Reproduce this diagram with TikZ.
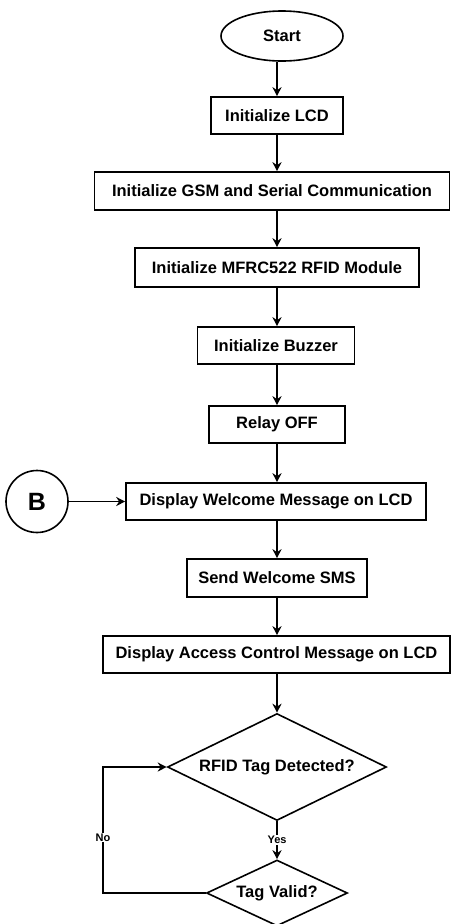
\documentclass[tikz,border=0pt]{standalone}
\usepackage{fontspec}
\setmainfont{Liberation Sans}
\usetikzlibrary{
  arrows,
  arrows.meta,
  shapes.geometric,
  positioning}

\begin{document}
\begin{tikzpicture}[
  x=1pt,y=-1pt,
  >={Stealth[length=9pt,width=9pt]},
  line width=1.6pt,
  every node/.style={font=\fontsize{16.5}{18}\selectfont\bfseries,inner sep=0pt},
  proc/.style={draw,rectangle,minimum height=37pt},
  term/.style={draw,ellipse,minimum width=122pt,minimum height=50pt},
  decide/.style={draw,diamond,aspect=2},
  conn/.style={draw,circle,minimum size=62pt,font=\fontsize{25}{28}\selectfont\bfseries},
  lbl/.style={fill=white,font=\fontsize{11}{12}\selectfont\bfseries,inner sep=1pt}
]%
  \useasboundingbox (0,0) rectangle (452,924);

  \node[term] (nStart) at (282,36) {Start};
  \node[proc,minimum width=132pt] (nLcd) at (277,115.5) {Initialize LCD};
  \node[proc,minimum width=355pt,minimum height=38pt] (nGsm) at (272,191) {Initialize GSM and Serial Communication};
  \node[proc,minimum width=284pt,minimum height=39pt] (nRfid) at (277,267.5) {Initialize MFRC522 RFID Module};
  \node[proc,minimum width=157pt] (nBuzz) at (276,345.5) {Initialize Buzzer};
  \node[proc,minimum width=136pt] (nRelay) at (277,424.5) {Relay OFF};
  \node[proc,minimum width=300pt] (nWelcome) at (276,501.5) {Display Welcome Message on LCD};
  \node[proc,minimum width=180pt,minimum height=38pt] (nSms) at (277,578) {Send Welcome SMS};
  \node[proc,minimum width=347pt] (nAccess) at (276.5,654.5) {Display Access Control Message on LCD};
  \node[decide,minimum width=219pt,minimum height=107pt] (nDet) at (277,767) {RFID Tag Detected?};
  \node[decide,minimum width=141pt,minimum height=66pt] (nValid) at (277,893) {Tag Valid?};
  \node[conn] (nB) at (37,501.5) {B};
  \coordinate (cNo) at (103,893);

  \draw[->] (nLcd.north |- nStart.south) -- (nLcd.north);
  \draw[->] (nLcd.south) -- (nLcd.south |- nGsm.north);
  \draw[->] (nLcd.south |- nGsm.south) -- (nRfid.north);
  \draw[->] (nRfid.south) -- (nRfid.south |- nBuzz.north);
  \draw[->] (nRfid.south |- nBuzz.south) -- (nRelay.north);
  \draw[->] (nRelay.south) -- (nRelay.south |- nWelcome.north);
  \draw[->] (nB.east) -- (nWelcome.west);
  \draw[->] (nSms.north |- nWelcome.south) -- (nSms.north);
  \draw[->] (nSms.south) -- (nSms.south |- nAccess.north);
  \draw[->] (nDet.north |- nAccess.south) -- (nDet.north);
  \draw[->] (nDet.south) -- node[lbl] {Yes} (nValid.north);
  \draw[->] (nValid.west) -- (cNo) |- node[lbl,pos=0.22] {No} (nDet.west);
\end{tikzpicture}
\end{document}
